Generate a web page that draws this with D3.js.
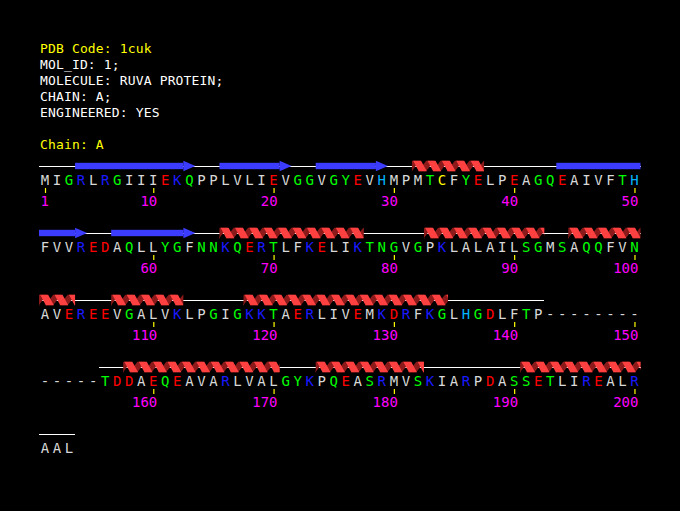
<!DOCTYPE html>
<html>
<head>
<meta charset="utf-8">
<script src="https://cdn.jsdelivr.net/npm/d3@7"></script>
<style>
  html, body { margin: 0; padding: 0; background: #000; }
  svg { display: block; }
</style>
</head>
<body>
<script>
// ---------------- data ----------------
const headerLines = [
  { text: "PDB Code: 1cuk", color: "#ffff00" },
  { text: "MOL_ID: 1;", color: "#ffffff" },
  { text: "MOLECULE: RUVA PROTEIN;", color: "#ffffff" },
  { text: "CHAIN: A;", color: "#ffffff" },
  { text: "ENGINEERED: YES", color: "#ffffff" },
  { text: "", color: "#ffffff" },
  { text: "Chain: A", color: "#ffff00" }
];
const sequence =
  "MIGRLRGIIIEKQPPLVLIEVGGVGYEVHMPMTCFYELPEAGQEAIVFTH" +
  "FVVREDAQLLYGFNNKQERTLFKELIKTNGVGPKLALAILSGMSAQQFVN" +
  "AVEREEVGALVKLPGIGKKTAERLIVEMKDRFKGLHGDLFTP--------" +
  "-----TDDAEQEAVARLVALGYKPQEASRMVSKIARPDASSETLIREALR" +
  "AAL";
const strands = [[4, 13], [16, 21], [24, 29], [44, 54], [57, 63]];
const helices = [[32, 37], [66, 77], [83, 92], [95, 103], [107, 112], [118, 134], [158, 170], [174, 182], [191, 200]];
const coils = [[1, 142], [156, 203]];
const tickResidues = [1, 10, 20, 30, 40, 50, 60, 70, 80, 90, 100, 110, 120, 130, 140, 150, 160, 170, 180, 190, 200];

const residueColors = {
  A: "#d8d8d8", V: "#d8d8d8", L: "#d8d8d8", I: "#d8d8d8", M: "#d8d8d8", F: "#d8d8d8", P: "#d8d8d8", W: "#d8d8d8",
  G: "#00ff00", S: "#00ff00", T: "#00ff00", N: "#00ff00", Q: "#00ff00", Y: "#00ff00",
  R: "#1a1aff", K: "#1a1aff",
  E: "#ff0000", D: "#ff0000",
  H: "#00b4ff", C: "#ffff00", "-": "#d8d8d8"
};

// ---------------- layout ----------------
const W = 680, H = 511;
const perRow = 50;
const x = d3.scaleLinear().domain([0, perRow]).range([39, 39 + perRow * 12.03]);
const rowY = d3.scaleLinear().domain([0, 1]).range([185, 252]); // baselines
const ssOffset = 19;
const font = "'DejaVu Sans Mono', 'Liberation Mono', monospace";

const svg = d3.select("body").append("svg").attr("width", W).attr("height", H);
svg.append("rect").attr("width", W).attr("height", H).attr("fill", "#000");

// header
svg.append("g").selectAll("text").data(headerLines).join("text")
  .attr("x", 40).attr("y", (d, i) => 53 + i * 16)
  .attr("fill", d => d.color)
  .attr("font-family", font).attr("font-size", 13).attr("letter-spacing", 0.15)
  .text(d => d.text);

function split(a, b) {
  const segs = [];
  let s = a;
  while (s <= b) {
    const row = Math.floor((s - 1) / perRow);
    const rowEnd = (row + 1) * perRow;
    const e = Math.min(b, rowEnd);
    segs.push({ row, c0: (s - 1) % perRow, c1: (e - 1) % perRow, isStart: s === a, isEnd: e === b });
    s = e + 1;
  }
  return segs;
}

// coil lines
const coilSegs = coils.flatMap(c => split(c[0], c[1]));
svg.append("g").selectAll("line").data(coilSegs).join("line")
  .attr("x1", d => x(d.c0)).attr("x2", d => x(d.c1 + 1))
  .attr("y1", d => rowY(d.row) - ssOffset + 0.5).attr("y2", d => rowY(d.row) - ssOffset + 0.5)
  .attr("stroke", "#ffffff").attr("stroke-width", 1).attr("shape-rendering", "crispEdges");

// strands
const strandSegs = strands.flatMap(s => split(s[0], s[1]));
const sg = svg.append("g");
strandSegs.forEach(d => {
  const cy = rowY(d.row) - ssOffset;
  const x0 = x(d.c0), x1 = x(d.c1 + 1);
  const headL = 12;
  const bodyEnd = d.isEnd ? x1 - headL : x1;
  sg.append("rect").attr("x", x0).attr("y", cy - 3.2).attr("width", bodyEnd - x0).attr("height", 6.4)
    .attr("fill", "#3c3cff");
  if (d.isEnd) {
    sg.append("path")
      .attr("d", d3.line()([[bodyEnd, cy - 5.3], [x1, cy], [bodyEnd, cy + 5.3]]) + "Z")
      .attr("fill", "#3c3cff");
  }
});

// helices
const helixSegs = helices.flatMap(h => split(h[0], h[1]));
const hg = svg.append("g");
const defs = svg.append("defs");
helixSegs.forEach((d, i) => {
  const cy = rowY(d.row) - ssOffset;
  const y0 = cy - 5.5, y1 = cy + 5.5;
  const x0 = x(d.c0), x1 = x(d.c1 + 1);
  const id = "hclip" + i;
  defs.append("clipPath").attr("id", id).append("rect")
    .attr("x", x0).attr("y", y0).attr("width", x1 - x0).attr("height", y1 - y0);
  const g = hg.append("g").attr("clip-path", `url(#${id})`);
  const p = 14.4, w = 8, s = 6;
  for (let t = x0 - 2 * p; t < x1 + p; t += p) {
    g.append("path")
      .attr("d", d3.line()([[t + s, y1], [t + s + w, y1], [t + p + w, y0], [t + p, y0]]) + "Z")
      .attr("fill", "#8c1a1a");
  }
  for (let t = x0 - 2 * p + 1; t < x1 + p; t += p) {
    g.append("path")
      .attr("d", d3.line()([[t, y0], [t + w, y0], [t + s + w, y1], [t + s, y1]]) + "Z")
      .attr("fill", "#ff4040");
  }
});

// residues
const residues = sequence.split("").map((c, i) => ({ c, n: i + 1, row: Math.floor(i / perRow), col: i % perRow }));
svg.append("g").selectAll("text").data(residues).join("text")
  .attr("x", d => x(d.col) + 6).attr("y", d => rowY(d.row))
  .attr("text-anchor", "middle")
  .attr("fill", d => residueColors[d.c] || "#d8d8d8")
  .attr("font-family", font).attr("font-size", 14)
  .text(d => d.c);

// ticks
const ticks = tickResidues.map(n => ({ n, row: Math.floor((n - 1) / perRow), col: (n - 1) % perRow }));
const tg = svg.append("g");
tg.selectAll("line").data(ticks).join("line")
  .attr("x1", d => x(d.col) + 6.5).attr("x2", d => x(d.col) + 6.5)
  .attr("y1", d => rowY(d.row) + 3).attr("y2", d => rowY(d.row) + 8)
  .attr("stroke", "#ffff00").attr("stroke-width", 1.2);
tg.selectAll("text").data(ticks).join("text")
  .attr("x", d => x(d.col) + 10).attr("y", d => rowY(d.row) + 21)
  .attr("text-anchor", "end")
  .attr("fill", "#ff00ff")
  .attr("font-family", font).attr("font-size", 14)
  .text(d => d.n);
</script>
</body>
</html>
